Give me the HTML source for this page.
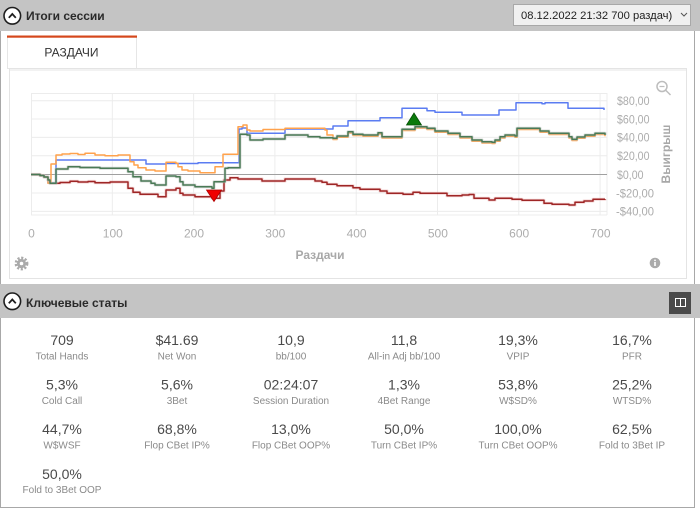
<!DOCTYPE html>
<html><head><meta charset="utf-8"><style>
html,body{margin:0;padding:0;background:#fff;width:700px;height:509px;overflow:hidden}
svg{display:block}
text{font-family:"Liberation Sans","DejaVu Sans",sans-serif}
</style></head><body>
<svg width="700" height="509" viewBox="0 0 700 509" xmlns="http://www.w3.org/2000/svg">
<rect x="0" y="0" width="700" height="509" fill="#fff"/>
<!-- top header -->
<rect x="0" y="0" width="700" height="31" fill="#c4c4c4"/>
<circle cx="12.3" cy="15.8" r="8.3" fill="#fff" stroke="#1e1e1e" stroke-width="1.6"/>
<polyline points="8.8,17.8 12.3,14 15.8,17.8" fill="none" stroke="#1e1e1e" stroke-width="1.8"/>
<text x="26" y="20" font-size="12" font-weight="bold" fill="#2a2a2a">Итоги сессии</text>
<rect x="513.5" y="4.5" width="177" height="21" fill="#f0f0f0" stroke="#a8a8a8"/>
<text x="521" y="19" font-size="11.2" fill="#1e1e1e">08.12.2022 21:32 700 раздач)</text>
<polyline points="681,13 684,16 687,13" fill="none" stroke="#555" stroke-width="1"/>
<!-- outer borders -->
<line x1="0.5" y1="31" x2="0.5" y2="508" stroke="#a8a8a8"/>
<line x1="694.5" y1="31" x2="694.5" y2="508" stroke="#a8a8a8"/>
<line x1="0" y1="507.5" x2="695" y2="507.5" stroke="#a8a8a8"/>
<!-- tab -->
<rect x="7.5" y="37" width="129" height="31.5" fill="#fff" stroke="#e6e6e6"/>
<rect x="7" y="35.5" width="130" height="2.2" fill="#d5481c"/>
<text x="71.5" y="56.5" font-size="12" fill="#333" text-anchor="middle">РАЗДАЧИ</text>
<!-- chart panel -->
<rect x="9.5" y="68.5" width="677" height="210" fill="#fff" stroke="#e4e4e4"/>
<line x1="10" y1="70" x2="686" y2="70" stroke="#f2f2f2" stroke-width="2"/>
<!-- gridlines -->
<g stroke="#ececec" stroke-width="1">
<line x1="31" y1="93.5" x2="607" y2="93.5"/>
<line x1="31" y1="100.7" x2="607" y2="100.7"/>
<line x1="31" y1="119" x2="607" y2="119"/>
<line x1="31" y1="137.4" x2="607" y2="137.4"/>
<line x1="31" y1="155.8" x2="607" y2="155.8"/>
<line x1="31" y1="193" x2="607" y2="193"/>
<line x1="31" y1="211.4" x2="607" y2="211.4"/>
<line x1="31" y1="215" x2="607" y2="215"/>
<line x1="31.5" y1="93" x2="31.5" y2="215"/>
<line x1="112.3" y1="93" x2="112.3" y2="215"/>
<line x1="193.6" y1="93" x2="193.6" y2="215"/>
<line x1="274.9" y1="93" x2="274.9" y2="215"/>
<line x1="356.2" y1="93" x2="356.2" y2="215"/>
<line x1="437.5" y1="93" x2="437.5" y2="215"/>
<line x1="518.8" y1="93" x2="518.8" y2="215"/>
<line x1="600.1" y1="93" x2="600.1" y2="215"/>
<line x1="607" y1="93" x2="607" y2="215"/>
</g>
<line x1="31" y1="174.5" x2="607" y2="174.5" stroke="#a0a0a0" stroke-width="1"/>
<!-- series -->
<g fill="none" stroke-linejoin="round">
<path d="M31,174.5 H40 V175.5 H44 V177 H48 V180 H50 V183.3 H60 V182.5 H70 V181.3 H78 V182 H88 V181.5 H95 V182.7 H110 V182 H128 V188.3 H133 V192.3 H140 V194.3 H158 V196.7 H166 V190 H176 V188.3 H180 V193.3 H183 V195 H195 V196.7 H212 V198.3 H220 V191 H224 V180 H230 V177.7 H238 V179 H262 V181 H285 V179 H315 V181 H322 V182.3 H327 V184.3 H337 V185.7 H353 V187.7 H360 V189.3 H380 V191 H387 V193.3 H403 V194.3 H413 V192.3 H420 V193.3 H447 V195.7 H462 V195 H469 V194.5 H474 V198.3 H489 V200 H495 V198.3 H512 V199.3 H522 V200.3 H544 V203.3 H552 V204.3 H569 V205 H575 V202.3 H584 V201 H593 V199.3 H605 V199" stroke="#eab0b0" stroke-width="3.2" stroke-opacity="0.45"/>
<path d="M31,174.5 H40 V175.5 H44 V177 H48 V180 H50 V183.3 H60 V182.5 H70 V181.3 H78 V182 H88 V181.5 H95 V182.7 H110 V182 H128 V188.3 H133 V192.3 H140 V194.3 H158 V196.7 H166 V190 H176 V188.3 H180 V193.3 H183 V195 H195 V196.7 H212 V198.3 H220 V191 H224 V180 H230 V177.7 H238 V179 H262 V181 H285 V179 H315 V181 H322 V182.3 H327 V184.3 H337 V185.7 H353 V187.7 H360 V189.3 H380 V191 H387 V193.3 H403 V194.3 H413 V192.3 H420 V193.3 H447 V195.7 H462 V195 H469 V194.5 H474 V198.3 H489 V200 H495 V198.3 H512 V199.3 H522 V200.3 H544 V203.3 H552 V204.3 H569 V205 H575 V202.3 H584 V201 H593 V199.3 H605 V199" stroke="#9e2626" stroke-width="1.5"/>
<path d="M31,174.5 H40 V175.5 H44 V177 H48 V183 H56 V160 H146 V164 H166 V163.5 H198 V162.7 H239 V129 H242 V128 H247 V133.3 H285 V129 H333 V126 H348 V120.7 H380 V117.7 H402 V108.3 H427 V110.7 H435 V112.3 H462 V115 H499 V110 H516 V102.7 H542 V103.7 H545 V102.7 H568 V108.3 H604 V110" stroke="#5b7cf2" stroke-width="1.5"/>
<path d="M31,174.5 H40 V175.5 H44 V177 H48 V183.3 H51 V164 H56 V155 H62 V154 H70 V153.5 H78 V154.5 H85 V153.3 H95 V155 H105 V155.7 H118 V155 H130 V161.7 H134 V165 H138 V167.7 H146 V170 H155 V171 H166 V162.3 H176 V163.3 H178 V166.7 H182 V170 H188 V171 H200 V172.7 H215 V166.7 H223 V154.3 H238 V126.7 H243 V125 H247 V130 H250 V131 H263 V129.5 H285 V128.3 H325 V130 H327 V135 H333 V139.5 H337 V137.2 H348 V133 H353 V135.5 H363 V136.2 H378 V134 H382 V138 H402 V130.5 H415 V128 H427 V129.5 H435 V132.2 H448 V134.5 H460 V138 H472 V141.2 H482 V143 H492 V143.5 H495 V141.2 H500 V138 H505 V136.2 H515 V137.2 H517 V129.5 H540 V132.2 H549 V134.5 H569 V138 H572 V140.5 H577 V138.2 H585 V136.2 H595 V134.5 H605 V136.2" stroke="#ffa24c" stroke-width="1.5"/>
<path d="M31,174.5 H40 V175.5 H44 V177 H48 V180 H50 V183.3 H56 V169 H68 V166.7 H80 V167.5 H100 V168.3 H128 V171.7 H133 V176.7 H141 V181 H151 V183.3 H155 V185 H166 V176 H176 V176.7 H180 V181.7 H183 V185 H195 V186.7 H212 V188.3 H214 V181.7 H225 V168.3 H228 V167.7 H240 V134.3 H247 V135 H250 V140 H263 V139 H285 V135 H308 V136.7 H320 V137.7 H333 V138.3 H337 V136 H348 V131.7 H353 V134.3 H363 V135 H378 V132.7 H382 V136.7 H402 V129.3 H415 V126.7 H427 V128.3 H435 V131 H448 V133.3 H460 V136.7 H472 V140 H482 V141.7 H492 V142.3 H495 V140 H500 V136.7 H505 V135 H515 V136 H517 V128.3 H540 V131 H549 V133.3 H569 V136.7 H572 V139.3 H577 V137 H585 V135 H595 V133.3 H605 V135" stroke="#b8c0bb" stroke-width="3" stroke-opacity="0.55"/>
<path d="M31,174.5 H40 V175.5 H44 V177 H48 V180 H50 V183.3 H56 V169 H68 V166.7 H80 V167.5 H100 V168.3 H128 V171.7 H133 V176.7 H141 V181 H151 V183.3 H155 V185 H166 V176 H176 V176.7 H180 V181.7 H183 V185 H195 V186.7 H212 V188.3 H214 V181.7 H225 V168.3 H228 V167.7 H240 V134.3 H247 V135 H250 V140 H263 V139 H285 V135 H308 V136.7 H320 V137.7 H333 V138.3 H337 V136 H348 V131.7 H353 V134.3 H363 V135 H378 V132.7 H382 V136.7 H402 V129.3 H415 V126.7 H427 V128.3 H435 V131 H448 V133.3 H460 V136.7 H472 V140 H482 V141.7 H492 V142.3 H495 V140 H500 V136.7 H505 V135 H515 V136 H517 V128.3 H540 V131 H549 V133.3 H569 V136.7 H572 V139.3 H577 V137 H585 V135 H595 V133.3 H605 V135" stroke="#4a7a56" stroke-width="1.5"/>
</g>
<polygon points="206.5,190 221.5,190 214,201.5" fill="#f00000" stroke="#b00000" stroke-width="0.8"/>
<polygon points="406.5,125 421.5,125 414,113" fill="#0b7a0b" stroke="#055005" stroke-width="0.8"/>
<!-- x ticks -->
<g font-size="12" fill="#adadad" text-anchor="middle">
<text x="31.5" y="237.5">0</text>
<text x="112.8" y="237.5">100</text>
<text x="194" y="237.5">200</text>
<text x="275.3" y="237.5">300</text>
<text x="356.6" y="237.5">400</text>
<text x="437.9" y="237.5">500</text>
<text x="519.2" y="237.5">600</text>
<text x="600.5" y="237.5">700</text>
</g>
<text x="320" y="259" font-size="12" font-weight="bold" fill="#a8a8a8" text-anchor="middle">Раздачи</text>
<!-- y ticks -->
<g font-size="12" fill="#adadad">
<text x="617" y="105" textLength="32.5" lengthAdjust="spacingAndGlyphs">$80,00</text>
<text x="617" y="123.3" textLength="32.5" lengthAdjust="spacingAndGlyphs">$60,00</text>
<text x="617" y="141.7" textLength="32.5" lengthAdjust="spacingAndGlyphs">$40,00</text>
<text x="617" y="160.1" textLength="32.5" lengthAdjust="spacingAndGlyphs">$20,00</text>
<text x="617" y="178.8" textLength="26.5" lengthAdjust="spacingAndGlyphs">$0,00</text>
<text x="616" y="197.3" textLength="38" lengthAdjust="spacingAndGlyphs">-$20,00</text>
<text x="616" y="215.7" textLength="38" lengthAdjust="spacingAndGlyphs">-$40,00</text>
</g>
<text transform="translate(670,154) rotate(-90)" font-size="12" font-weight="bold" fill="#a8a8a8" text-anchor="middle">Выигрыш</text>
<!-- icons -->
<g stroke="#bdbdbd" fill="none" stroke-width="1.5">
<circle cx="662" cy="86.5" r="5"/>
<line x1="665.6" y1="90.1" x2="670.5" y2="95"/>
<line x1="659.5" y1="86.5" x2="664.5" y2="86.5" stroke-width="1.2"/>
</g>
<circle cx="21.5" cy="263.5" r="5.6" fill="none" stroke="#aaa" stroke-width="2.6" stroke-dasharray="2.1 1.6"/>
<circle cx="21.5" cy="263.5" r="4.6" fill="#aaa"/>
<circle cx="21.5" cy="263.5" r="1.8" fill="#fff"/>
<circle cx="655" cy="263" r="5.3" fill="#aaa"/>
<rect x="654.2" y="262" width="1.6" height="4" fill="#fff"/>
<rect x="654.2" y="259.6" width="1.6" height="1.5" fill="#fff"/>
<!-- section 2 header -->
<rect x="0" y="284" width="700" height="34" fill="#c4c4c4"/>
<circle cx="12.3" cy="301.3" r="8.3" fill="#fff" stroke="#1e1e1e" stroke-width="1.6"/>
<polyline points="8.8,303.3 12.3,299.5 15.8,303.3" fill="none" stroke="#1e1e1e" stroke-width="1.8"/>
<text x="26" y="307" font-size="12" font-weight="bold" fill="#2a2a2a">Ключевые статы</text>
<rect x="669" y="292" width="22" height="22" fill="#4a4a4a"/>
<rect x="675.5" y="298.5" width="10" height="8" fill="none" stroke="#fff" stroke-width="1"/>
<line x1="680.5" y1="298.5" x2="680.5" y2="306.5" stroke="#fff" stroke-width="1"/>
<!-- stats -->
<g font-size="14" fill="#4a4a4a" text-anchor="middle">
<text x="62" y="345">709</text>
<text x="177" y="345">$41.69</text>
<text x="291" y="345">10,9</text>
<text x="404" y="345">11,8</text>
<text x="518" y="345">19,3%</text>
<text x="632" y="345">16,7%</text>
<text x="62" y="389.6">5,3%</text>
<text x="177" y="389.6">5,6%</text>
<text x="291" y="389.6">02:24:07</text>
<text x="404" y="389.6">1,3%</text>
<text x="518" y="389.6">53,8%</text>
<text x="632" y="389.6">25,2%</text>
<text x="62" y="434.2">44,7%</text>
<text x="177" y="434.2">68,8%</text>
<text x="291" y="434.2">13,0%</text>
<text x="404" y="434.2">50,0%</text>
<text x="518" y="434.2">100,0%</text>
<text x="632" y="434.2">62,5%</text>
<text x="62" y="478.8">50,0%</text>
</g>
<g font-size="10" fill="#8a8a8a" text-anchor="middle">
<text x="62" y="359.3">Total Hands</text>
<text x="177" y="359.3">Net Won</text>
<text x="291" y="359.3">bb/100</text>
<text x="404" y="359.3">All-in Adj bb/100</text>
<text x="518" y="359.3">VPIP</text>
<text x="632" y="359.3">PFR</text>
<text x="62" y="403.9">Cold Call</text>
<text x="177" y="403.9">3Bet</text>
<text x="291" y="403.9">Session Duration</text>
<text x="404" y="403.9">4Bet Range</text>
<text x="518" y="403.9">W$SD%</text>
<text x="632" y="403.9">WTSD%</text>
<text x="62" y="448.5">W$WSF</text>
<text x="177" y="448.5">Flop CBet IP%</text>
<text x="291" y="448.5">Flop CBet OOP%</text>
<text x="404" y="448.5">Turn CBet IP%</text>
<text x="518" y="448.5">Turn CBet OOP%</text>
<text x="632" y="448.5">Fold to 3Bet IP</text>
<text x="62" y="493.1">Fold to 3Bet OOP</text>
</g>
</svg>
</body></html>
